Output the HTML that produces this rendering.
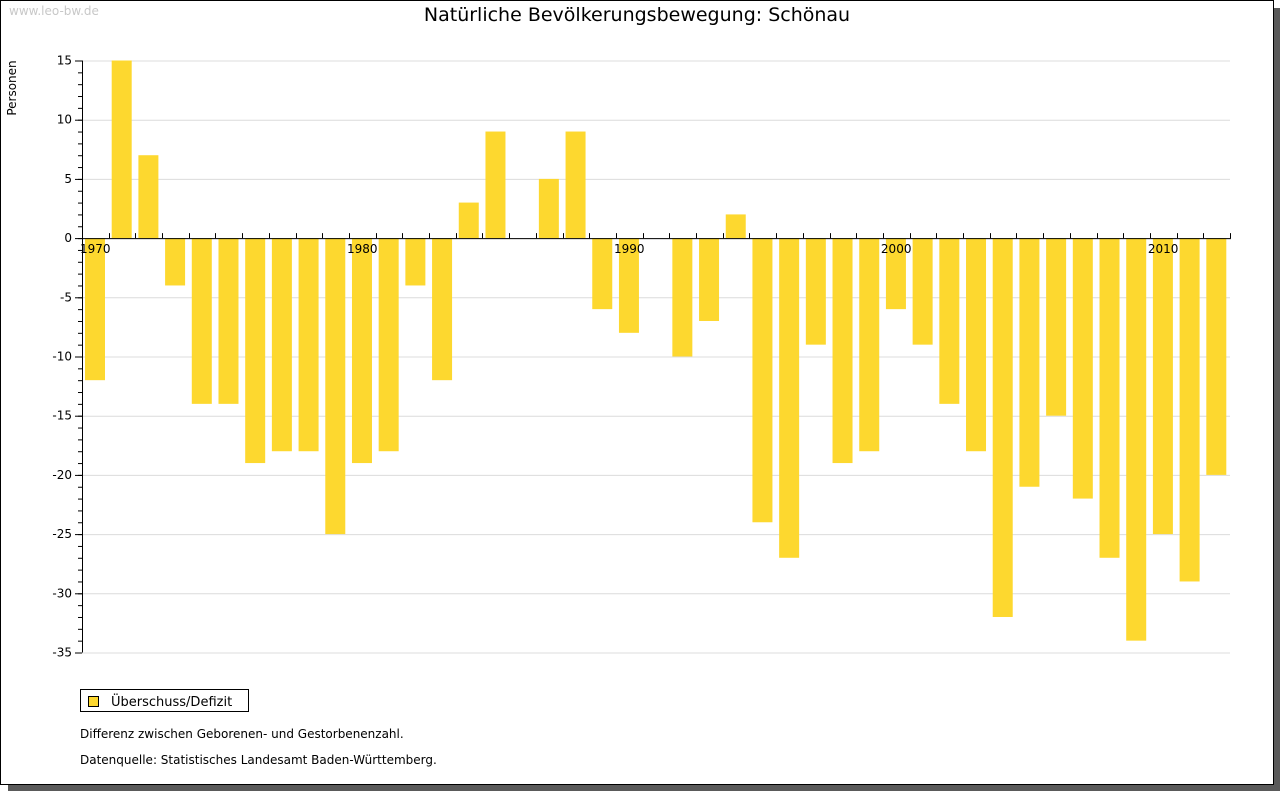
<!DOCTYPE html>
<html><head><meta charset="utf-8"><style>
body{margin:0;background:#fff;}
svg text{font-family:"DejaVu Sans","Liberation Sans",sans-serif;}
</style></head><body>
<svg width="1280" height="791" xmlns="http://www.w3.org/2000/svg">
<rect x="1274" y="8" width="6" height="783" fill="#5a5a5a"/>
<rect x="8" y="785" width="1272" height="6" fill="#5a5a5a"/>
<rect x="0.5" y="0.5" width="1273" height="784" fill="#fff" stroke="#000"/>
<text x="9" y="15" font-size="12" fill="#c8c8c8">www.leo-bw.de</text>
<text x="637" y="21" font-size="19" text-anchor="middle" fill="#000">Natürliche Bevölkerungsbewegung: Schönau</text>
<text transform="translate(16,88) rotate(-90)" font-size="12" text-anchor="middle">Personen</text>
<g id="grid"></g><g id="bars"></g><g id="axes"></g>
<rect x="80.5" y="689.5" width="168" height="22" fill="#fff" stroke="#000"/>
<rect x="88.5" y="696.5" width="10" height="10" fill="#fdd82f" stroke="#000"/>
<text x="111" y="706" font-size="13">Überschuss/Defizit</text>
<text x="80" y="738" font-size="12">Differenz zwischen Geborenen- und Gestorbenenzahl.</text>
<text x="80" y="764" font-size="12">Datenquelle: Statistisches Landesamt Baden-Württemberg.</text>
</svg>
<script>
const years=[1970,1971,1972,1973,1974,1975,1976,1977,1978,1979,1980,1981,1982,1983,1984,1985,1986,1987,1988,1989,1990,1991,1992,1993,1994,1995,1996,1997,1998,1999,2000,2001,2002,2003,2004,2005,2006,2007,2008,2009,2010,2011,2012];
const values=[-12,15,7,-4,-14,-14,-19,-18,-18,-25,-19,-18,-4,-12,3,9,0,5,9,-6,-8,0,-10,-7,2,-24,-27,-9,-19,-18,-6,-9,-14,-18,-32,-21,-15,-22,-27,-34,-25,-29,-20];
const yTicks=[15,10,5,0,-5,-10,-15,-20,-25,-30,-35];
const xLabels=[1970,1980,1990,2000,2010];
const NS="http://www.w3.org/2000/svg";
const x0=82,x1=1230,yTop=60.5,yBot=652.5,vMax=15,vMin=-35;
const band=(x1-x0)/(years.length);
const xS=y=>x0+(y-years[0])*band;
const yS=v=>yTop+(vMax-v)*(yBot-yTop)/(vMax-vMin);
function mk(t,a,p){const e=document.createElementNS(NS,t);for(const k in a)e.setAttribute(k,a[k]);p.appendChild(e);return e;}
const G=document.getElementById('grid'),B=document.getElementById('bars'),A=document.getElementById('axes');
yTicks.forEach(v=>{
 const l=mk('line',{x1:x0,x2:x1,y1:yS(v)+0.5,y2:yS(v)+0.5,stroke:'#dcdcdc'},G);
 
 
 const t=mk('text',{x:72,y:yS(v)+4,'font-size':12,'text-anchor':'end'},A);t.textContent=v;
 
 
 mk('line',{x1:x0-7,x2:x0,y1:yS(v)+0.5,y2:yS(v)+0.5,stroke:'#000'},A);
});
for(let v=vMin;v<=vMax;v++){mk('line',{x1:x0-4,x2:x0,y1:yS(v)+0.5,y2:yS(v)+0.5,stroke:'#000'},A);}
years.forEach((y,i)=>{
 const v=values[i];if(v===0)return;
 const top=Math.min(yS(v),yS(0)),h=Math.abs(yS(v)-yS(0));
 const r=mk('rect',{x:xS(y)+3,y:top,width:20,height:h,fill:'#fdd82f'},B);
 
 
});
const ax=mk('line',{x1:x0+0.5,x2:x0+0.5,y1:yTop,y2:yBot,stroke:'#000'},A);


const xa=mk('line',{x1:x0,x2:x1+1,y1:yS(0)+0.5,y2:yS(0)+0.5,stroke:'#000'},A);


for(let i=0;i<=years.length;i++){const xx=Math.round(x0+i*band)+0.5;mk('line',{x1:xx,x2:xx,y1:yS(0)-5,y2:yS(0),stroke:'#000'},A);}
xLabels.forEach(y=>{
 const t=mk('text',{x:xS(y)-2,y:yS(0)+15,'font-size':12},A);t.textContent=y;
 
 
});
</script>
</body></html>
